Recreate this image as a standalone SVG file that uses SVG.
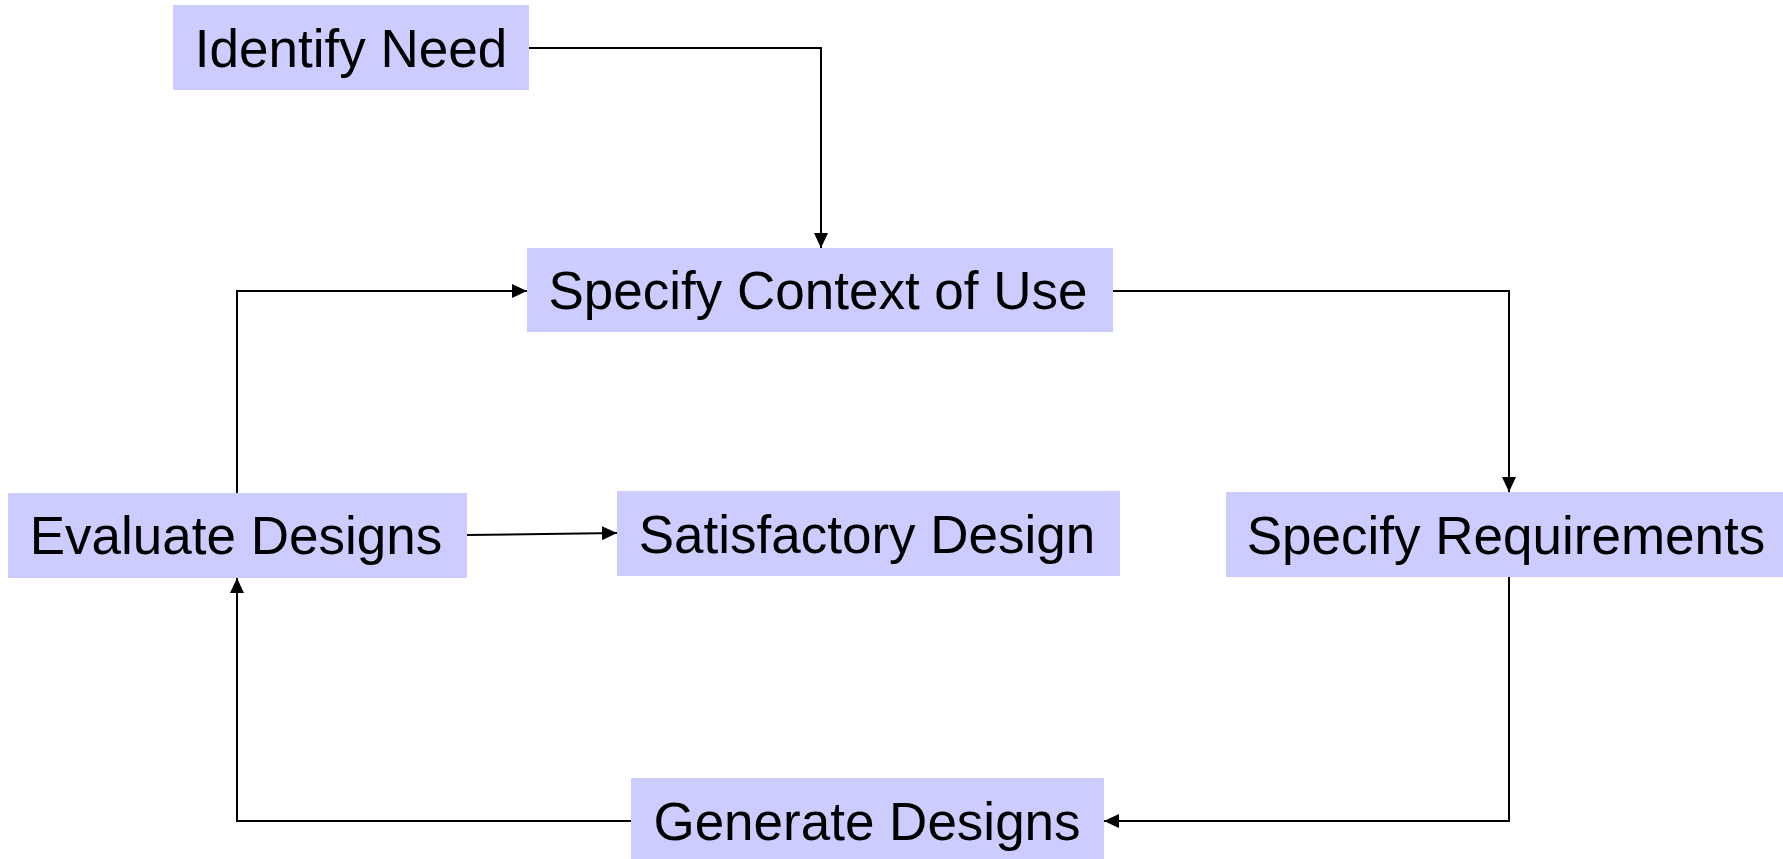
<svg xmlns="http://www.w3.org/2000/svg" width="1783" height="859" viewBox="0 0 1783 859">
<style>
.box{fill:#CCCCFF;}
.lbl{font-family:"Liberation Sans",Arial,sans-serif;font-size:53px;fill:#000;text-anchor:middle;}
.conn{fill:none;stroke:#000;stroke-width:2;marker-end:url(#arr);}
</style>
<defs>
<marker id="arr" markerUnits="userSpaceOnUse" markerWidth="15" markerHeight="14" refX="15" refY="7" orient="auto">
<path d="M0,0 L15,7 L0,14 z" fill="#000"/>
</marker>
</defs>
<rect width="1783" height="859" fill="#fff"/>
<g id="connectors">
<path class="conn" d="M529,48 H821 V248"/>
<path class="conn" d="M1113,291 H1509 V492"/>
<path class="conn" d="M237,493 V291 H527"/>
<path class="conn" d="M467,535 L617,533"/>
<path class="conn" d="M1509,577 V821 H1104"/>
<path class="conn" d="M631,821 H237 V578"/>
</g>
<g id="identify-need">
<rect class="box" x="173" y="5" width="356" height="85"/>
<text class="lbl" x="351" y="67">Identify Need</text>
</g>
<g id="specify-context">
<rect class="box" x="527" y="248" width="586" height="84"/>
<text class="lbl" x="818" y="309">Specify Context of Use</text>
</g>
<g id="evaluate-designs">
<rect class="box" x="8" y="493" width="459" height="85"/>
<text class="lbl" x="236" y="554">Evaluate Designs</text>
</g>
<g id="satisfactory-design">
<rect class="box" x="617" y="491" width="503" height="85"/>
<text class="lbl" x="867" y="553">Satisfactory Design</text>
</g>
<g id="specify-requirements">
<rect class="box" x="1226" y="492" width="557" height="85"/>
<text class="lbl" x="1506" y="554">Specify Requirements</text>
</g>
<g id="generate-designs">
<rect class="box" x="631" y="778" width="473" height="81"/>
<text class="lbl" x="867" y="840">Generate Designs</text>
</g>
</svg>
